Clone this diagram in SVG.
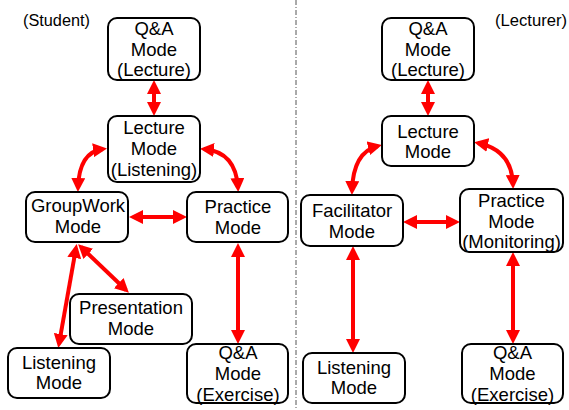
<svg xmlns="http://www.w3.org/2000/svg" width="569" height="410" viewBox="0 0 569 410">
<style>
.box{fill:#fff;stroke:#000;stroke-width:2}
.t{font-family:"Liberation Sans",Arial,sans-serif;font-size:18.5px;text-anchor:middle;fill:#000}
.lab{font-family:"Liberation Sans",Arial,sans-serif;font-size:16px;fill:#000}
.ar{fill:none;stroke:#ff0000;stroke-width:4;marker-start:url(#ah);marker-end:url(#ah)}
</style>
<defs>
<marker id="ah" markerUnits="userSpaceOnUse" markerWidth="14" markerHeight="14" viewBox="0 0 14 14" refX="10" refY="7" orient="auto-start-reverse">
<path d="M0,0 L14,7 L0,14 z" fill="#ff0000"/>
</marker>
</defs>
<rect width="569" height="410" fill="#fff"/>
<line x1="296" y1="0" x2="296" y2="410" stroke="#555" stroke-width="1" stroke-dasharray="5,2,1,2"/>
<text class="lab" x="23" y="26" textLength="67" lengthAdjust="spacingAndGlyphs">(Student)</text>
<text class="lab" x="495" y="26" textLength="72" lengthAdjust="spacingAndGlyphs">(Lecturer)</text>

<g id="connectors">
<line class="ar" x1="154" y1="84" x2="154" y2="112"/>
<path class="ar" d="M103,149 Q79,152 78,188"/>
<path class="ar" d="M204,149 Q236,152 238,188"/>
<line class="ar" x1="133" y1="217" x2="183" y2="217"/>
<line class="ar" x1="81" y1="247" x2="126" y2="290"/>
<line class="ar" x1="76" y1="248" x2="59" y2="344"/>
<line class="ar" x1="238" y1="247" x2="238" y2="340"/>
<line class="ar" x1="428" y1="84" x2="428" y2="112"/>
<path class="ar" d="M378,146 Q353,152 352,191"/>
<path class="ar" d="M478,143 Q512,150 513,185"/>
<line class="ar" x1="407" y1="222" x2="456" y2="222"/>
<line class="ar" x1="353" y1="250" x2="353" y2="349"/>
<line class="ar" x1="513" y1="256" x2="513" y2="340"/>
</g>

<g id="s-qa-lecture"><rect class="box" x="108" y="18" width="92" height="62" rx="9"/>
<text class="t" x="154" y="35">Q&amp;A</text><text class="t" x="154" y="56">Mode</text><text class="t" x="154" y="76">(Lecture)</text></g>
<g id="s-lecture"><rect class="box" x="108" y="116" width="92" height="66" rx="9"/>
<text class="t" x="154" y="134">Lecture</text><text class="t" x="154" y="155">Mode</text><text class="t" x="154" y="176">(Listening)</text></g>
<g id="s-groupwork"><rect class="box" x="26" y="192" width="102" height="50" rx="9"/>
<text class="t" x="78" y="212">GroupWork</text><text class="t" x="78" y="233">Mode</text></g>
<g id="s-practice"><rect class="box" x="187" y="192" width="101" height="50" rx="9"/>
<text class="t" x="238" y="213">Practice</text><text class="t" x="238" y="234">Mode</text></g>
<g id="s-presentation"><rect class="box" x="70" y="294" width="122" height="50" rx="9"/>
<text class="t" x="131" y="314">Presentation</text><text class="t" x="131" y="335">Mode</text></g>
<g id="s-listening"><rect class="box" x="8" y="348" width="102" height="50" rx="9"/>
<text class="t" x="59" y="369">Listening</text><text class="t" x="59" y="389">Mode</text></g>
<g id="s-qa-exercise"><rect class="box" x="187" y="344" width="101" height="59" rx="9"/>
<text class="t" x="238" y="359">Q&amp;A</text><text class="t" x="238" y="380">Mode</text><text class="t" x="238" y="401">(Exercise)</text></g>

<g id="l-qa-lecture"><rect class="box" x="382" y="18" width="92" height="62" rx="9"/>
<text class="t" x="428" y="35">Q&amp;A</text><text class="t" x="428" y="56">Mode</text><text class="t" x="428" y="76">(Lecture)</text></g>
<g id="l-lecture"><rect class="box" x="382" y="116" width="92" height="50" rx="9"/>
<text class="t" x="428" y="138">Lecture</text><text class="t" x="428" y="158">Mode</text></g>
<g id="l-facilitator"><rect class="box" x="301" y="195" width="102" height="51" rx="9"/>
<text class="t" x="352" y="217">Facilitator</text><text class="t" x="352" y="238">Mode</text></g>
<g id="l-practice"><rect class="box" x="460" y="189" width="103" height="63" rx="9"/>
<text class="t" x="511.5" y="207">Practice</text><text class="t" x="511.5" y="228">Mode</text><text class="t" x="511.5" y="248">(Monitoring)</text></g>
<g id="l-listening"><rect class="box" x="303" y="353" width="102" height="50" rx="9"/>
<text class="t" x="354" y="374">Listening</text><text class="t" x="354" y="394">Mode</text></g>
<g id="l-qa-exercise"><rect class="box" x="462" y="344" width="101" height="59" rx="9"/>
<text class="t" x="512.5" y="359">Q&amp;A</text><text class="t" x="512.5" y="380">Mode</text><text class="t" x="512.5" y="401">(Exercise)</text></g>
</svg>
